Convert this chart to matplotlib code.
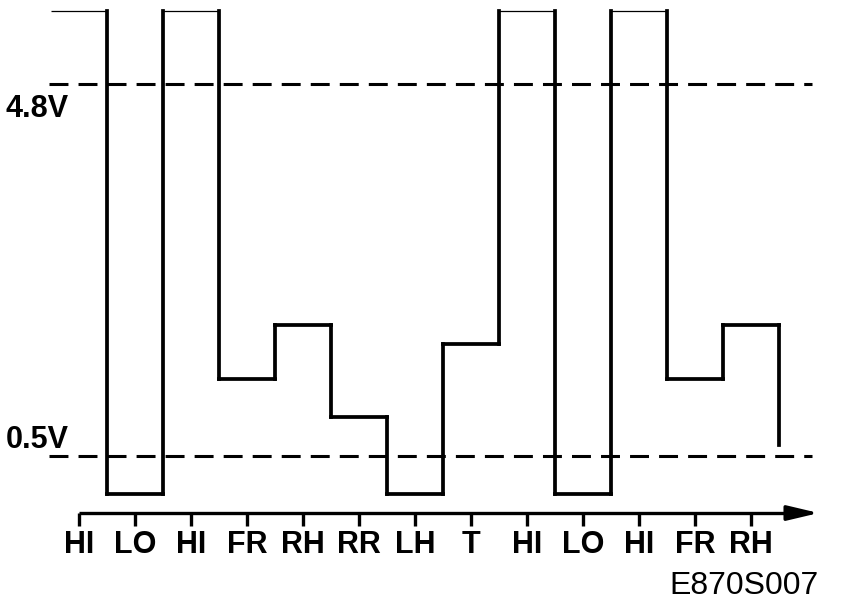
import matplotlib
matplotlib.use("Agg")
import matplotlib.pyplot as plt
from matplotlib.collections import LineCollection

# ---- data ----
labels = ["HI", "LO", "HI", "FR", "RH", "RR", "LH", "T", "HI", "LO", "HI", "FR", "RH"]
levels = [5.64, 0.06, 5.64, 1.39, 2.01, 0.95, 0.06, 1.79, 5.64, 0.06, 5.64, 1.39, 2.01]
end_level = 0.63
hi_level = 5.64
ref_levels = [4.8, 0.5]
ref_labels = ["4.8V", "0.5V"]
code_text = "E870S007"

plt.rcParams['font.family'] = ['Liberation Sans', 'DejaVu Sans']

fig = plt.figure(figsize=(8.64, 6.12), dpi=100)
ax = fig.add_axes([0, 0, 1, 1])
ax.set_xlim(-1.411, 14.018)
ax.set_ylim(-1.303, 5.771)
ax.axis('off')

thick = 2.7
thin = 0.9

# waveform
segs_thick, segs_thin = [], []
n = len(levels)
for i, v in enumerate(levels):
    seg = [(i - 0.5, v), (i + 0.5, v)]
    (segs_thin if v >= hi_level else segs_thick).append(seg)
    nxt = levels[i + 1] if i + 1 < n else end_level
    segs_thick.append([(i + 0.5, v), (i + 0.5, nxt)])
ax.add_collection(LineCollection(segs_thick, colors='black', linewidths=thick, capstyle='projecting'))
ax.add_collection(LineCollection(segs_thin, colors='black', linewidths=thin))

# reference dashed lines
for lv in ref_levels:
    ax.plot([-0.536, 13.09], [lv, lv], color='black', lw=2.2, dashes=(6.2, 3.3))
for lab, base in zip(ref_labels, [4.419, 0.592]):
    ax.text(-1.304, base, lab, fontsize=22, fontweight='bold', ha='left', va='baseline')

# x axis with arrow
axis_y = -0.159
ax.plot([0, 12.85], [axis_y, axis_y], color='black', lw=2.4, solid_capstyle='butt')
ax.annotate("", xy=(13.21, axis_y), xytext=(12.7, axis_y),
            arrowprops=dict(arrowstyle='-|>,head_length=1.9,head_width=0.45',
                            color='black', lw=2.4, shrinkA=0, shrinkB=0))
for i, lab in enumerate(labels):
    ax.plot([i, i], [axis_y, -0.309], color='black', lw=2.4, solid_capstyle='butt')
    ax.text(i, -0.621, lab, fontsize=22, fontweight='bold', ha='center', va='baseline')

ax.text(13.21, -1.095, code_text, fontsize=23, ha='right', va='baseline')

fig.savefig("out.png", dpi=100)
